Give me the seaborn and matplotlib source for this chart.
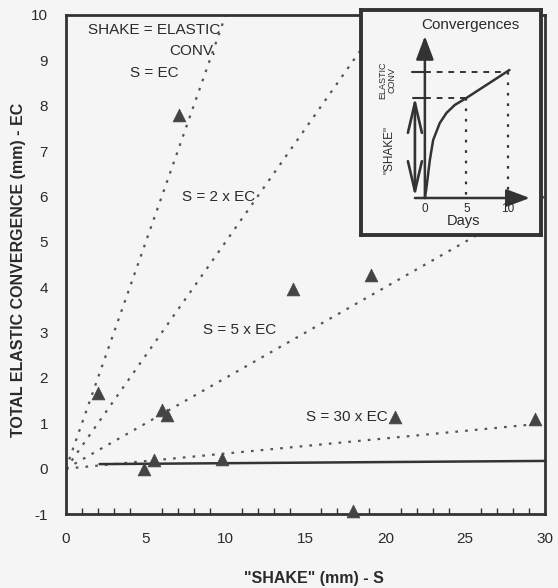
import numpy as np
import pandas as pd
import matplotlib
matplotlib.use("Agg")
import matplotlib.pyplot as plt
import seaborn as sns
from matplotlib.ticker import MultipleLocator

# ---------------- data ----------------
shake_s = [2.0, 7.1, 6.0, 6.3, 5.5, 4.9, 9.8, 14.2, 19.1, 20.6, 29.4, 18.0]
elastic_ec = [1.67, 7.8, 1.3, 1.18, 0.2, 0.0, 0.22, 3.97, 4.27, 1.14, 1.1, -0.93]

ratio_labels = ["S = EC", "S = 2 x EC", "S = 5 x EC", "S = 30 x EC"]
ratios = [1, 2, 5, 30]
ratio_x_end = [10.0, 20.0, 30.0, 29.2]

fit_x = [2.1, 30.0]
fit_y = [0.10, 0.17]

# inset (schematic convergence curve)
inset_days = [0, 0.2, 0.6, 1.0, 1.8, 2.6, 3.6, 4.6, 5.0, 10.2]
inset_conv = [0, 11, 38, 58, 75, 85, 93, 98, 100, 128]
inset_ticks = [0, 5, 10]

# ---------------- style ----------------
sns.set_theme(style="white")
plt.rcParams["font.family"] = ["Liberation Sans", "DejaVu Sans"]
plt.rcParams["axes.unicode_minus"] = False
BG = "#f5f5f5"
INK = "#333333"
TXT = "#2a2a2a"

fig = plt.figure(figsize=(5.58, 5.88), dpi=100, facecolor=BG)
ax = fig.add_axes([66 / 558, (588 - 514) / 588, 479 / 558, 499 / 588], facecolor=BG)

# ratio reference lines
for lab, r, xe in zip(ratio_labels, ratios, ratio_x_end):
    xs = np.array([0.0, xe])
    df = pd.DataFrame({"S": xs, "EC": xs / r})
    sns.lineplot(data=df, x="S", y="EC", ax=ax, color="#555555", lw=1.6,
                 linestyle=(0, (1.2, 3.2)), sort=False, zorder=2)

# fitted solid line
sns.lineplot(x=fit_x, y=fit_y, ax=ax, color=INK, lw=1.8, zorder=3)

# data triangles
sns.scatterplot(x=shake_s, y=elastic_ec, ax=ax, marker="^", s=85,
                color="#444444", edgecolor="#444444", linewidth=0.5, zorder=4,
                clip_on=False)

ax.set_xlim(0, 30)
ax.set_ylim(-1, 10)
ax.set_xticks([0, 5, 10, 15, 20, 25, 30])
ax.set_yticks(range(-1, 11))
ax.xaxis.set_minor_locator(MultipleLocator(1))
ax.tick_params(axis="both", which="major", direction="inout", length=8,
               width=1.2, color=INK, labelsize=11, labelcolor=TXT)
ax.tick_params(axis="x", which="major", pad=9)
ax.tick_params(axis="y", which="major", pad=9)
ax.tick_params(axis="x", which="minor", direction="in", length=4, width=1,
               color=INK, bottom=True)
for sp in ax.spines.values():
    sp.set_linewidth(2.0)
    sp.set_color(INK)

ax.set_xlabel('"SHAKE" (mm) - S', fontsize=11.5, fontweight="bold", color=TXT)
ax.set_ylabel("TOTAL ELASTIC CONVERGENCE (mm) - EC", fontsize=11.5,
              fontweight="bold", color=TXT)
ax.xaxis.label.set_va("center")
ax.yaxis.label.set_va("center")
ax.xaxis.set_label_coords(0.518, -0.13)
ax.yaxis.set_label_coords(-0.1, 0.49)

# annotations
tkw = dict(fontsize=11, color=TXT, ha="center", va="center")
ax.text(5.5, 9.66, "SHAKE = ELASTIC", **tkw)
ax.text(7.9, 9.2, "CONV.", **tkw)
ax.text(5.5, 8.73, "S = EC", **tkw)
ax.text(9.55, 5.98, "S = 2 x EC", **tkw)
ax.text(10.85, 3.05, "S = 5 x EC", **tkw)
ax.text(17.6, 1.14, "S = 30 x EC", **tkw)

# ---------------- inset ----------------
ins = fig.add_axes([361 / 558, (588 - 235) / 588, 180 / 558, 225 / 588], facecolor=BG)
ins.set_xlim(-7.7, 14.0)
ins.set_ylim(-37, 188)
ins.set_xticks([])
ins.set_yticks([])
for sp in ins.spines.values():
    sp.set_linewidth(2.8)
    sp.set_color(INK)

sns.lineplot(x=inset_days, y=inset_conv, ax=ins, color=INK, lw=1.8, sort=False)

# dashed guides
ins.plot([0, 5], [100, 100], color=INK, lw=1.4, linestyle=(0, (3, 3)))
ins.plot([0, 10], [126, 126], color=INK, lw=1.4, linestyle=(0, (3, 3)))
ins.plot([5, 5], [100, 0], color=INK, lw=1.6, linestyle=(0, (1.2, 3.5)))
ins.plot([10, 10], [126, 0], color=INK, lw=1.6, linestyle=(0, (1.2, 3.5)))
ins.plot([-1.6, 0], [126, 126], color=INK, lw=1.5)
ins.plot([-1.45, 0.2], [100, 100], color=INK, lw=1.5)

# axes arrows
ins.annotate("", xy=(0, 162), xytext=(0, 0),
             arrowprops=dict(arrowstyle="-|>,head_length=1.2,head_width=0.45",
                             lw=1.8, color=INK, shrinkA=0, shrinkB=0))
ins.annotate("", xy=(12.65, 0), xytext=(-1.2, 0),
             arrowprops=dict(arrowstyle="-|>,head_length=1.2,head_width=0.45",
                             lw=1.8, color=INK, shrinkA=0, shrinkB=0))
ins.annotate("", xy=(-1.2, 101), xytext=(-1.2, 1),
             arrowprops=dict(arrowstyle="<->,head_length=1.8,head_width=0.42",
                             lw=1.9, color=INK, shrinkA=0, shrinkB=0))

for t in inset_ticks:
    ins.text(t, -11, str(t), fontsize=8.5, ha="center", va="center", color=TXT)
ins.text(4.7, -23, "Days", fontsize=10.5, ha="center", va="center", color=TXT)
ins.text(5.5, 173, "Convergences", fontsize=11, ha="center", va="center", color=TXT)
ins.text(-4.5, 118, "ELASTIC\nCONV", fontsize=6.5, rotation=90, ha="center",
         va="center", linespacing=1.0, color=TXT)
ins.text(-4.3, 48, '"SHAKE"', fontsize=8.5, rotation=90, ha="center", va="center",
         color=TXT)

fig.savefig("out.png", dpi=100, facecolor=BG)
